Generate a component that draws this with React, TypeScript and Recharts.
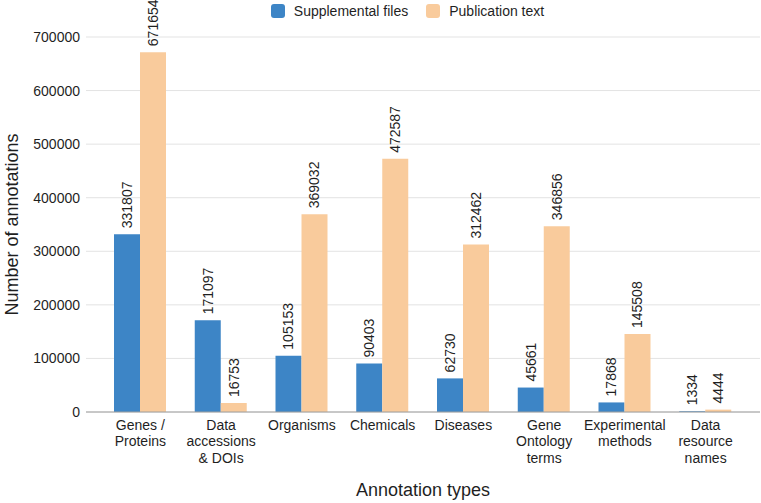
import React from 'react';
import { BarChart, Bar, XAxis, YAxis, CartesianGrid, Legend, LabelList } from 'recharts';

const categories = [
  'Genes /\nProteins',
  'Data\naccessions\n& DOIs',
  'Organisms',
  'Chemicals',
  'Diseases',
  'Gene\nOntology\nterms',
  'Experimental\nmethods',
  'Data\nresource\nnames',
];
const supplementalFiles = [331807, 171097, 105153, 90403, 62730, 45661, 17868, 1334];
const publicationText = [671654, 16753, 369032, 472587, 312462, 346856, 145508, 4444];
const yTicks = [0, 100000, 200000, 300000, 400000, 500000, 600000, 700000];

const data = categories.map((c, i) => ({
  category: c,
  supp: supplementalFiles[i],
  pub: publicationText[i],
}));

const FONT = '"Liberation Sans", Arial, sans-serif';
const BLUE = '#3d85c6';
const ORANGE = '#f9cb9c';
const TEXT = '#1f1f1f';

const CategoryTick = (props: any) => {
  const { x, y, payload } = props;
  const lines = String(payload.value).split('\n');
  return (
    <text x={x} y={y} textAnchor="middle" fontSize={14} fontFamily={FONT} fill={TEXT}>
      {lines.map((l: string, i: number) => (
        <tspan key={i} x={x} dy={i === 0 ? '0.71em' : 16.5}>
          {l}
        </tspan>
      ))}
    </text>
  );
};

const ValueLabel = (props: any) => {
  const { x, y, width, value } = props;
  const cx = Number(x) + Number(width) / 2;
  const ty = Number(y) - 6;
  return (
    <text
      x={cx}
      y={ty}
      transform={`rotate(-90, ${cx}, ${ty})`}
      textAnchor="start"
      dominantBaseline="central"
      fontSize={14}
      fontFamily={FONT}
      fill={TEXT}
    >
      {value}
    </text>
  );
};

const LegendContent = () => {
  const items = [
    { label: 'Supplemental files', color: BLUE },
    { label: 'Publication text', color: ORANGE },
  ];
  return (
    <div style={{ display: 'flex', justifyContent: 'center', gap: 18, fontFamily: FONT, fontSize: 14, lineHeight: '16px', color: TEXT, paddingLeft: 54 }}>
      {items.map((it) => (
        <div key={it.label} style={{ display: 'flex', alignItems: 'center' }}>
          <span style={{ display: 'inline-block', width: 14, height: 14, borderRadius: 3, background: it.color, marginRight: 9 }} />
          <span>{it.label}</span>
        </div>
      ))}
    </div>
  );
};

const YTitle = (props: any) => {
  const { viewBox } = props;
  const cx = 12;
  const cy = viewBox.y + viewBox.height / 2;
  return (
    <text x={cx} y={cy} transform={`rotate(-90, ${cx}, ${cy})`} textAnchor="middle" dominantBaseline="central" fontSize={18} fontFamily={FONT} fill={TEXT}>
      Number of annotations
    </text>
  );
};

const XTitle = (props: any) => {
  const { viewBox } = props;
  const cx = viewBox.x + viewBox.width / 2;
  return (
    <text x={cx} y={490} textAnchor="middle" dominantBaseline="central" fontSize={18} fontFamily={FONT} fill={TEXT}>
      Annotation types
    </text>
  );
};

export default function App() {
  return (
    <div style={{ position: 'absolute', left: 0, top: 0, width: 761, height: 503, background: '#fff' }}>
      <BarChart
        width={761}
        height={503}
        data={data}
        margin={{ top: 21, right: 1, bottom: 0, left: 0 }}
        barGap={0}
        barSize={26}
      >
        <CartesianGrid vertical={false} stroke="#e3e3e3" />
        <XAxis
          dataKey="category"
          height={91}
          interval={0}
          tick={<CategoryTick />}
          tickLine={false}
          axisLine={{ stroke: '#9e9e9e' }}
          padding={{ left: 14, right: 14 }}
          label={<XTitle />}
        />
        <YAxis
          width={86}
          domain={[0, 700000]}
          ticks={yTicks}
          tickLine={false}
          axisLine={false}
          tickSize={6}
          tickMargin={0}
          tick={{ fontSize: 14, fontFamily: FONT, fill: TEXT }}
          label={<YTitle />}
        />
        <Legend verticalAlign="top" align="center" height={16} content={<LegendContent />} wrapperStyle={{ top: 3, left: 0, width: 761 }} />
        <Bar dataKey="supp" name="Supplemental files" fill={BLUE} isAnimationActive={false}>
          <LabelList dataKey="supp" content={<ValueLabel />} />
        </Bar>
        <Bar dataKey="pub" name="Publication text" fill={ORANGE} isAnimationActive={false}>
          <LabelList dataKey="pub" content={<ValueLabel />} />
        </Bar>
      </BarChart>
    </div>
  );
}
